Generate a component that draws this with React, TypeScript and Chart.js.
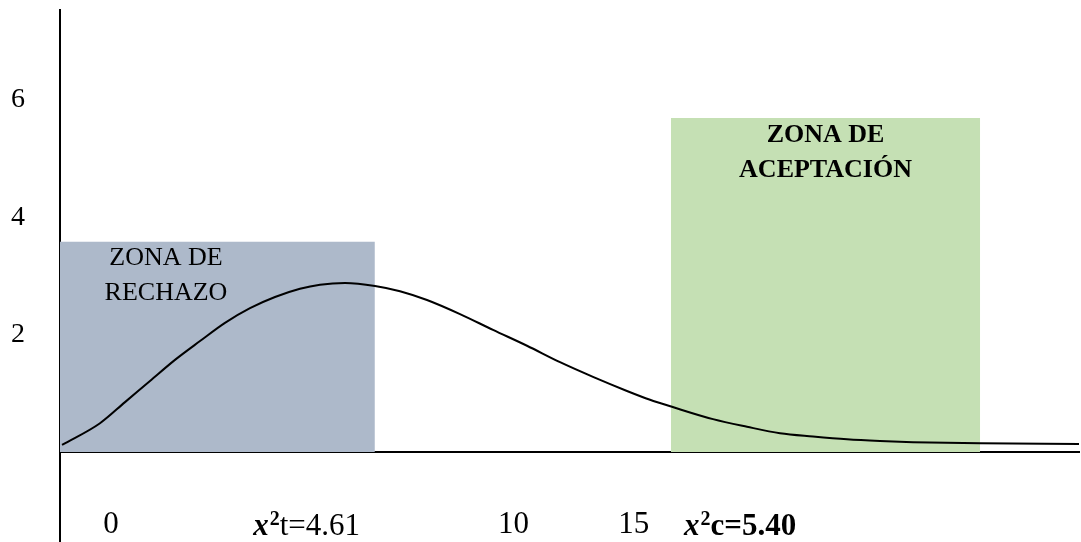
import React, { useEffect, useRef } from 'react';
import { Chart, registerables } from 'chart.js';

Chart.register(...registerables);

// ---- Data ----
// Density curve (x in axis units, y in axis units)
const curveX = [0.04, 0.785, 1.276, 1.766, 2.257, 2.748, 3.238, 3.729, 4.22, 4.71, 5.103, 5.594, 6.183, 6.673, 7.203, 7.851, 8.499, 9.166, 9.814, 10.461, 11.128, 11.58, 12.012, 12.816, 13.484, 14.131, 14.779, 15.447, 16.094, 16.742, 18.057, 20.0];
const curveY = [0.12, 0.49, 0.85, 1.21, 1.57, 1.89, 2.2, 2.45, 2.64, 2.78, 2.85, 2.88, 2.83, 2.74, 2.59, 2.35, 2.08, 1.81, 1.53, 1.28, 1.04, 0.89, 0.77, 0.56, 0.43, 0.32, 0.264, 0.216, 0.187, 0.167, 0.148, 0.136];

// Zones (x range and height)
const rejectionZoneX = [0, 6.18];
const rejectionZoneHeight = 3.58;
const acceptanceZoneX = [11.99, 18.06];
const acceptanceZoneHeight = 5.69;

// Axis ticks
const yTickValues = [2, 4, 6];
const xTickValues = [1.0, 8.9, 11.26];
const xTickLabels = ['0', '10', '15'];

// Chi-square labels on the x axis
const chiLabelValues = [4.83, 13.34];
const chiLabelSuffixes = ['t=4.61', 'c=5.40'];
const chiLabelBold = [false, true];

// Zone captions
const rejectionCaption = ['ZONA DE', 'RECHAZO'];
const acceptanceCaption = ['ZONA DE', 'ACEPTACIÓN'];

// ---- Layout constants ----
const X_MIN = 0;
const X_MAX = 20;
const Y_MIN = -1.533;
const Y_MAX = 7.53;
const SERIF = '"Liberation Serif", "Times New Roman", serif';

const BLUE = '#ADB9CA';
const GREEN = '#C5E0B4';

const textPlugin = {
  id: 'zoneTexts',
  afterDatasetsDraw(chart: any) {
    const { ctx, scales } = chart;
    const x = scales.x;
    const y = scales.y;
    ctx.save();
    ctx.fillStyle = '#000';
    ctx.textAlign = 'center';
    ctx.textBaseline = 'middle';

    // Rejection zone caption
    ctx.font = `26px ${SERIF}`;
    const rejCaptionX = 2.08;
    const rejCaptionY = [3.3, 2.71];
    rejectionCaption.forEach((t, i) => {
      ctx.fillText(t, x.getPixelForValue(rejCaptionX), y.getPixelForValue(rejCaptionY[i]));
    });

    // Acceptance zone caption (centered in zone)
    ctx.font = `bold 26px ${SERIF}`;
    const accCaptionX = (acceptanceZoneX[0] + acceptanceZoneX[1]) / 2;
    const accCaptionY = [5.4, 4.8];
    acceptanceCaption.forEach((t, i) => {
      ctx.fillText(t, x.getPixelForValue(accCaptionX), y.getPixelForValue(accCaptionY[i]));
    });

    // Chi-square labels
    const labelY = y.getPixelForValue(0) + 72;
    chiLabelValues.forEach((v, i) => {
      const segs = [
        { t: 'x', f: `italic bold 31px ${SERIF}`, dy: 0 },
        { t: '2', f: `bold 20px ${SERIF}`, dy: -10 },
        { t: chiLabelSuffixes[i], f: `${chiLabelBold[i] ? 'bold ' : ''}31px ${SERIF}`, dy: 0 },
      ];
      let total = 0;
      const widths = segs.map((s) => {
        ctx.font = s.f;
        const w = ctx.measureText(s.t).width;
        total += w;
        return w;
      });
      let cx = x.getPixelForValue(v) - total / 2;
      ctx.textAlign = 'left';
      ctx.textBaseline = 'alphabetic';
      const baseline = labelY + 10.5;
      segs.forEach((s, k) => {
        ctx.font = s.f;
        ctx.fillText(s.t, cx, baseline + s.dy);
        cx += widths[k] + (k === 0 ? 1 : 0);
      });
    });
    ctx.restore();
  },
};

export default function App() {
  const canvasRef = useRef<HTMLCanvasElement | null>(null);

  useEffect(() => {
    if (!canvasRef.current) return;
    const chart = new Chart(canvasRef.current, {
      type: 'line',
      data: {
        datasets: [
          {
            label: 'Distribución',
            data: curveX.map((xv, i) => ({ x: xv, y: curveY[i] })),
            borderColor: '#000',
            borderWidth: 2,
            pointRadius: 0,
            fill: false,
            cubicInterpolationMode: 'monotone',
          },
          {
            label: 'Zona de rechazo',
            data: rejectionZoneX.map((xv) => ({ x: xv, y: rejectionZoneHeight })),
            borderWidth: 0,
            borderColor: 'rgba(0,0,0,0)',
            backgroundColor: BLUE,
            pointRadius: 0,
            fill: 'origin',
            tension: 0,
          },
          {
            label: 'Zona de aceptación',
            data: acceptanceZoneX.map((xv) => ({ x: xv, y: acceptanceZoneHeight })),
            borderWidth: 0,
            borderColor: 'rgba(0,0,0,0)',
            backgroundColor: GREEN,
            pointRadius: 0,
            fill: 'origin',
            tension: 0,
          },
        ],
      },
      options: {
        animation: false,
        responsive: false,
        devicePixelRatio: 1,
        layout: { padding: { top: 10, right: 2, bottom: 0, left: 0 } },
        plugins: {
          legend: { display: false },
          tooltip: { enabled: false },
        },
        scales: {
          x: {
            type: 'linear',
            min: X_MIN,
            max: X_MAX,
            position: { y: 0 } as any,
            grid: { display: false, drawTicks: false },
            border: { display: true, color: '#000', width: 2 },
            afterBuildTicks: (s: any) => {
              s.ticks = xTickValues.map((v) => ({ value: v }));
            },
            ticks: {
              autoSkip: false,
              maxRotation: 0,
              minRotation: 0,
              padding: 54,
              color: '#000',
              font: { family: SERIF, size: 31 },
              callback: (_v: any, i: number) => xTickLabels[i],
            },
          },
          y: {
            type: 'linear',
            min: Y_MIN,
            max: Y_MAX,
            position: 'left',
            grid: { display: false, drawTicks: false },
            border: { display: true, color: '#000', width: 2 },
            afterBuildTicks: (s: any) => {
              s.ticks = yTickValues.map((v) => ({ value: v }));
            },
            afterFit: (s: any) => {
              s.width = 60;
              s.paddingTop = 0;
              s.paddingBottom = 0;
            },
            ticks: {
              padding: 35,
              color: '#000',
              font: { family: SERIF, size: 28 },
              callback: (v: any) => String(v),
            },
          },
        },
      } as any,
      plugins: [textPlugin],
    });
    return () => chart.destroy();
  }, []);

  return (
    <div style={{ position: 'fixed', left: 0, top: 0, width: 1081, height: 542, background: '#fff' }}>
      <canvas ref={canvasRef} width={1081} height={542} style={{ width: 1081, height: 542, display: 'block' }} />
    </div>
  );
}
